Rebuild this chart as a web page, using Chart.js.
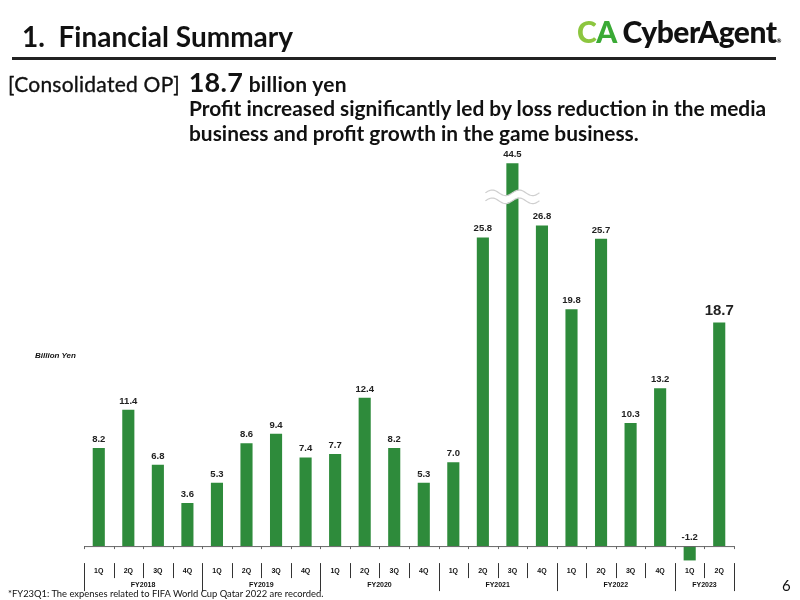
<!DOCTYPE html>
<html>
<head>
<meta charset="utf-8">
<script src="https://cdn.jsdelivr.net/npm/chart.js@4.4.0/dist/chart.umd.min.js"></script>
<style>
  body { margin: 0; width: 800px; height: 600px; position: relative; background: #fff; font-family: Lato, 'Noto Sans', sans-serif; color: #111; overflow: hidden; }
  #wrap { position: absolute; left: 0; top: 0; width: 800px; height: 600px; }
  .t { position: absolute; white-space: nowrap; }
  #title { left: 22px; top: 19px; font-size: 28px; font-weight: 700; }
  #rule { position: absolute; left: 12px; top: 57px; width: 764px; height: 3px; background: #222; }
  #logo { left: 577px; top: 13px; font-size: 30px; font-weight: 900; letter-spacing: -0.5px; }
  #sub1 { left: 8px; top: 65px; font-size: 21px; letter-spacing: 0.25px; -webkit-text-stroke: 0.35px #111; }
  #sub1 b { font-size: 27px; margin-left: 3px; -webkit-text-stroke: 0; }
  #sub1 span { -webkit-text-stroke: 0; }
  #msg { left: 189px; top: 96px; font-size: 20.9px; font-weight: 700; line-height: 24.5px; }
  #unit { left: 35px; top: 351px; font-size: 8px; font-weight: 700; font-style: italic; font-family: 'Liberation Sans', Arial, sans-serif; }
  #note { left: 8px; top: 588px; font-size: 9.4px; }
  #page { left: 782px; top: 576px; font-size: 15px; }
</style>
</head>
<body>
<div id="wrap"><canvas id="myChart" width="800" height="600"></canvas></div>
<div class="t" id="title">1.&nbsp;&nbsp;Financial Summary</div>
<div id="rule"></div>
<div class="t" id="logo"><span style="color:#8cc63f">C</span><span style="color:#3aaa35">A</span> CyberAgent<span style="font-size:6px">&#174;</span></div>
<div class="t" id="sub1">[Consolidated OP] <b>18.7</b> <span style="font-weight:700">billion yen</span></div>
<div class="t" id="msg">Profit increased significantly led by loss reduction in the media<br>business and profit growth in the game business.</div>
<div class="t" id="unit">Billion Yen</div>
<div class="t" id="note">*FY23Q1: The expenses related to FIFA World Cup Qatar 2022 are recorded.</div>
<div class="t" id="page">6</div>
<script>
const quarters = ['1Q', '2Q', '3Q', '4Q', '1Q', '2Q', '3Q', '4Q', '1Q', '2Q', '3Q', '4Q',
    '1Q', '2Q', '3Q', '4Q', '1Q', '2Q', '3Q', '4Q', '1Q', '2Q']
const years = ['FY2018', 'FY2019', 'FY2020', 'FY2021', 'FY2022', 'FY2023']
const yearSizes = [4, 4, 4, 4, 4, 2]
const opValues = [8.2, 11.4, 6.8, 3.6, 5.3, 8.6, 9.4, 7.4, 7.7, 12.4, 8.2, 5.3,
    7.0, 25.8, 44.5, 26.8, 19.8, 25.7, 10.3, 13.2, -1.2, 18.7]

// bar above this gets cut with a wave break
const breakCap = 32.0
const breakAt = 29.2
const barColor = '#2e8b3b'

const ctx = document.getElementById('myChart').getContext('2d')

const decoPlugin = {
    id: 'deco',
    afterDatasetsDraw(chart) {
        const { ctx, scales: { x, y } } = chart
        const y0 = y.getPixelForValue(0)
        const half = (x.getPixelForValue(1) - x.getPixelForValue(0)) / 2
        const n = quarters.length

        // break mark on the tall bar
        opValues.forEach((v, i) => {
            if (v <= breakCap) return
            const cx = x.getPixelForValue(i)
            const by = y.getPixelForValue(breakAt)
            ctx.save()
            const wave = (off) => {
                ctx.beginPath()
                for (let px = -27; px <= 27; px++) {
                    const py = by + off + Math.sin(px / 27 * Math.PI * 2) * -2.8
                    if (px === -27) ctx.moveTo(cx + px, py)
                    else ctx.lineTo(cx + px, py)
                }
            }
            ctx.strokeStyle = '#fff'
            ctx.lineWidth = 7
            wave(0)
            ctx.stroke()
            ctx.strokeStyle = '#cfcfcf'
            ctx.lineWidth = 1.2
            wave(-4)
            ctx.stroke()
            wave(4)
            ctx.stroke()
            ctx.restore()
        })

        // zero line
        ctx.save()
        ctx.strokeStyle = '#666'
        ctx.lineWidth = 1
        ctx.beginPath()
        ctx.moveTo(x.getPixelForValue(0) - half, y0 + 0.5)
        ctx.lineTo(x.getPixelForValue(n - 1) + half, y0 + 0.5)
        for (let k = 0; k <= n; k++) {
            const bx = Math.round(x.getPixelForValue(k) - half) + 0.5
            ctx.moveTo(bx, y0)
            ctx.lineTo(bx, y0 + 3)
        }
        ctx.stroke()

        // quarter labels and separators
        let yearStarts = []
        let s = 0
        yearSizes.forEach(sz => { yearStarts.push(s); s += sz })
        yearStarts.push(s)

        ctx.strokeStyle = '#333'
        ctx.beginPath()
        for (let k = 0; k <= n; k++) {
            const bx = Math.round(x.getPixelForValue(k) - half) + 0.5
            const long = yearStarts.includes(k)
            ctx.moveTo(bx, y0 + 17)
            ctx.lineTo(bx, y0 + (long ? 45 : 32))
        }
        ctx.stroke()

        ctx.fillStyle = '#111'
        ctx.textAlign = 'center'
        ctx.textBaseline = 'middle'
        ctx.font = 'bold 7px "Liberation Sans", Arial, sans-serif'
        quarters.forEach((q, i) => ctx.fillText(q, x.getPixelForValue(i), y0 + 24.5))
        years.forEach((yr, j) => {
            const a = yearStarts[j], b = yearStarts[j + 1] - 1
            const cx = (x.getPixelForValue(a) + x.getPixelForValue(b)) / 2
            ctx.fillText(yr, cx, y0 + 38.5)
        })

        // value labels
        ctx.textBaseline = 'bottom'
        opValues.forEach((v, i) => {
            const cx = x.getPixelForValue(i)
            const last = i === n - 1
            ctx.font = last ? 'bold 15px "Liberation Sans", Arial, sans-serif' : 'bold 9.5px "Liberation Sans", Arial, sans-serif'
            ctx.fillStyle = '#222'
            const top = v >= 0 ? y.getPixelForValue(Math.min(v, breakCap)) : y0
            ctx.fillText(v.toFixed(1), cx, top - 4)
        })
        ctx.restore()
    }
}

new Chart(ctx, {
    type: 'bar',
    data: {
        labels: quarters,
        datasets: [{
            data: opValues.map(v => Math.min(v, breakCap)),
            backgroundColor: barColor,
            borderWidth: 0,
            barPercentage: 0.41,
            categoryPercentage: 1
        }]
    },
    options: {
        responsive: false,
        animation: false,
        layout: { padding: { left: 84, right: 66, top: 149, bottom: 30 } },
        plugins: { legend: { display: false }, tooltip: { enabled: false } },
        scales: {
            x: { display: false },
            y: { display: false, min: -2, max: 33.2 }
        }
    },
    plugins: [decoPlugin]
})
</script>
</body>
</html>
